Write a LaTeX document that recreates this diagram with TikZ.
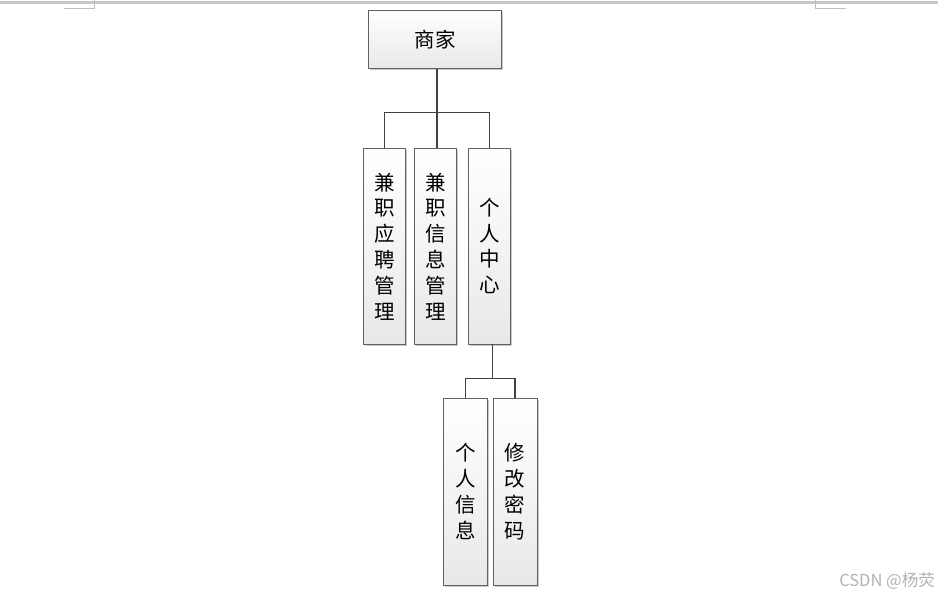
\documentclass[tikz,border=0pt]{standalone}
\usepackage{fontspec}
\setmainfont{Noto Sans CJK SC}
\usetikzlibrary{shadows}
\tikzset{
  box/.style={draw=black!62, line width=0.9pt, top color=white, bottom color=black!9,
    inner sep=0pt, align=center, font=\fontsize{20.5}{25.8}\selectfont,
    drop shadow={shadow xshift=1.6pt, shadow yshift=-1.6pt, fill=black!30, opacity=0.7}},
  link/.style={draw=black!75, line width=1.8pt},
  cornermark/.style={draw=black!25, line width=1pt}
}
\begin{document}
\begin{tikzpicture}[x=1pt,y=-1pt]
\useasboundingbox (0,0) rectangle (938,597);
% page edge and corner marks
\draw[draw=black!22, line width=2.2pt] (0,2.5) -- (938,2.5);
\draw[cornermark] (94.5,0) -- (94.5,8.5) -- (64,8.5);
\draw[cornermark] (815.5,0) -- (815.5,8.5) -- (846,8.5);
% nodes
\node[box, minimum width=133, minimum height=58] (shop) at (435,39.5) {商家};
\node[box, minimum width=42, minimum height=196] (b1) at (384.5,246.5) {兼\\职\\应\\聘\\管\\理};
\node[box, minimum width=42, minimum height=196] (b2) at (435.5,246.5) {兼\\职\\信\\息\\管\\理};
\node[box, minimum width=42, minimum height=196] (b3) at (489.5,246) {个\\人\\中\\心};
\node[box, minimum width=44, minimum height=187] (c1) at (465.5,491.5) {个\\人\\信\\息};
\node[box, minimum width=44, minimum height=187] (c2) at (515,491.5) {修\\改\\密\\码};
% connectors
\coordinate (j1) at (437,112.5);
\coordinate (j2) at (492.5,378.5);
\draw[link] (j1 |- shop.south) -- (j1 |- b2.north);
\draw[link] (b1.north) |- (j1) -| (b3.north);
\draw[link] (j2 |- b3.south) -- (j2);
\draw[link] (c1.north) |- (j2) -| (c2.north);
% watermark
\node[text=black!30, font=\fontsize{16.5}{18}\selectfont, anchor=east, inner sep=0pt] (wm) at (935,581) {CSDN @杨荧};
\end{tikzpicture}
\end{document}
